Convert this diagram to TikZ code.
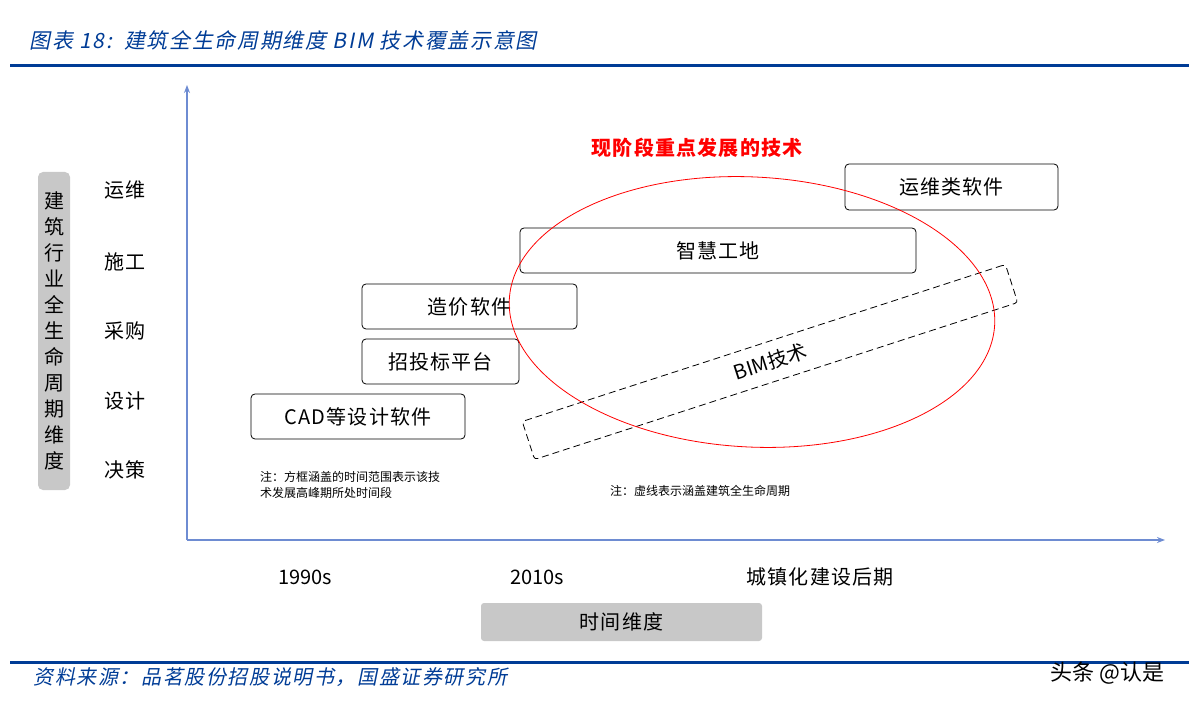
\documentclass[tikz,border=0pt]{standalone}
\usepackage{fontspec}
\setmainfont{Noto Sans CJK SC}
\newfontfamily\cjkit[FakeSlant=0.2,LetterSpace=8]{Noto Sans CJK SC}
\newfontfamily\cjksp[LetterSpace=6]{Noto Sans CJK SC}
\usetikzlibrary{arrows.meta}
\definecolor{hdblue}{RGB}{0,60,150}
\definecolor{axblue}{RGB}{110,140,210}
\definecolor{lgray}{RGB}{200,200,200}
\begin{document}
\begin{tikzpicture}[x=1pt,y=-1pt,
  box/.style={draw,thick,rounded corners=4pt,font=\cjksp\fontsize{20}{20}\selectfont,inner sep=0},
  row/.style={font=\cjksp\fontsize{20}{20}\selectfont},
  note/.style={font=\fontsize{12}{16}\selectfont,align=left,anchor=north west,inner sep=0}]
\useasboundingbox (0,0) rectangle (1189,708);
\node[anchor=west,text=hdblue,font=\cjkit\fontsize{21}{21}\selectfont] (title) at (26,40) {图表 18:\, 建筑全生命周期维度 BIM 技术覆盖示意图};
\draw[hdblue,line width=3pt] (10,66) -- (1189,66);
\coordinate (o) at (187,540);
\coordinate (ytop) at (187,85);
\coordinate (xend) at (1165,540);
\draw[axblue,line width=1.5pt,-{Stealth[length=8pt]}] (o) -- (ytop);
\draw[axblue,line width=1.5pt,-{Stealth[length=8pt]}] (o) -- (xend);
\node[fill=lgray,rounded corners=5pt,minimum width=32pt,minimum height=318pt,inner sep=0] (vl) at (54,331) {};
\node[font=\fontsize{20}{26}\selectfont,align=center,inner sep=0] (vlt) at (vl) {建\\筑\\行\\业\\全\\生\\命\\周\\期\\维\\度};
\node[row] (r1) at (125,190) {运维};
\node[row] (r2) at (125,262) {施工};
\node[row] (r3) at (125,331) {采购};
\node[row] (r4) at (125,401) {设计};
\node[row] (r5) at (125,470) {决策};
\node[box,minimum width=213pt,minimum height=46pt] (b1) at (951.5,187) {运维类软件};
\node[box,minimum width=396pt,minimum height=45pt] (b2) at (718,250.5) {智慧工地};
\node[box,minimum width=215pt,minimum height=45pt] (b3) at (469.5,306.5) {造价软件};
\node[box,minimum width=157pt,minimum height=45pt] (b4) at (440.5,361.5) {招投标平台};
\node[box,minimum width=214pt,minimum height=45pt] (b5) at (358,416.5) {CAD等设计软件};
\node[draw,thick,dashed,dash pattern=on 7pt off 4pt,rounded corners=3pt,minimum width=508pt,minimum height=40pt,rotate=18,font=\fontsize{20}{20}\selectfont] (bim) at (770,362) {BIM技术};
\draw[red,thick,rotate around={-3:(752,312)}] (752,312) ellipse [x radius=243pt,y radius=135pt];
\node[red,font=\cjksp\bfseries\fontsize{20}{20}\selectfont] (hl) at (697,148) {现阶段重点发展的技术};
\node[note] (n1) at (260,471) {注：方框涵盖的时间范围表示该技\\术发展高峰期所处时间段};
\node[note,anchor=west] (n2) at (610,491) {注：虚线表示涵盖建筑全生命周期};
\node[font=\fontsize{20}{20}\selectfont] (t1) at (305,577) {1990s};
\node[font=\fontsize{20}{20}\selectfont] (t2) at (537,577) {2010s};
\node[font=\cjksp\fontsize{20}{20}\selectfont] (t3) at (820,577) {城镇化建设后期};
\node[fill=lgray,rounded corners=3pt,minimum width=281pt,minimum height=38pt,font=\cjksp\fontsize{20}{20}\selectfont] (tx) at (621.5,622) {时间维度};
\draw[hdblue,line width=3pt] (10,662) -- (1189,662);
\node[anchor=west,text=hdblue,font=\cjkit\fontsize{20}{20}\selectfont] (src) at (30,677) {资料来源：品茗股份招股说明书，国盛证券研究所};
\node[anchor=east,font=\fontsize{22}{22}\selectfont] (wm) at (1168,673) {头条 @认是};
\end{tikzpicture}
\end{document}
